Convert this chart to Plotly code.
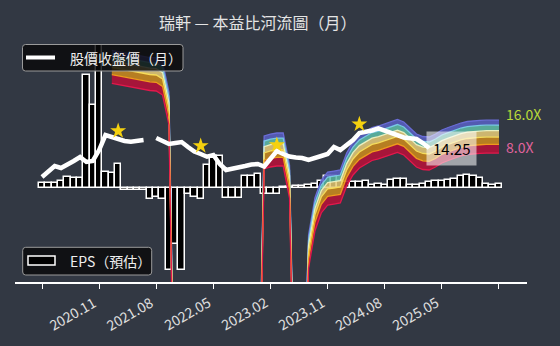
import math
import plotly.graph_objects as go

# ---------------- data ----------------
months = list(range(73))            # month index, 0 = 2020.11 ... 72 = 2026.11
tick_idx = [0, 9, 18, 27, 36, 45, 54, 63, 72]
tick_text = ["2020.11", "2021.08", "2022.05", "2023.02", "2023.11", "2024.08", "2025.05", "", ""]

# monthly EPS (estimated)
eps = [0.047, 0.047, 0.047, 0.07, 0.107, 0.097, 0.097, 1.13, 0.83, 1.70,
       0.163, 0.153, 0.237, -0.015, -0.015, -0.015, -0.015, -0.113, -0.087, -0.113,
       -0.815, -0.56, -0.82, -0.06, -0.087, -0.113, 0.23, 0.325, 0.325, -0.095,
       -0.095, -0.095, 0.12, 0.12, 0.137, -0.06, -0.06, -0.06, 0.008, 0.015,
       0.02, 0.025, 0.035, 0.04, 0.07, 0.12, 0.12, 0.07, 0.056, 0.056,
       0.056, 0.066, 0.033, 0.043, 0.033, 0.083, 0.09, 0.09, 0.033, 0.033,
       0.044, 0.056, 0.07, 0.07, 0.083, 0.095, 0.12, 0.13, 0.12, 0.10,
       0.044, 0.035, 0.044]

# monthly close price (None = no data)
price = [7.75, 8.79, 9.76, 9.36, 9.97, 10.85, 11.79, 10.62, 10.85, 13.66,
         18.72, 17.95, 17.04, 16.51, 16.27, 16.51, 16.86, None, 17.58, 16.51,
         15.50, 15.83, 16.16, 14.55, 13.24, 12.56, 11.87, 12.30, 10.18, 8.98,
         9.17, 9.36, 9.76, 10.07, 10.18, 9.66, 11.55, 13.38, 12.56, 11.92,
         11.67, 11.55, 11.08, 11.43, 12.04, 12.56, 14.55, 13.66, 15.02, 16.86,
         19.53, 19.94, 20.58, 21.55, 20.58, 19.32, 18.33, 17.77, 17.47, 17.22,
         15.83, 14.25]

# trailing EPS used for the PE river (None = negative / not available)
eps_ttm = [None] * 11 + [6.94, 6.76, 6.55, 6.42, 6.22, 6.09, 5.96, 5.90, 5.42, 2.89, 0.001] + \
          [None] * 12 + [0.001, 1.146, 1.195, 1.220, 1.220, 0.623, 0.001,
                         0.001, 0.143, 0.312, 0.455, 0.538, 0.549, 0.561, 0.802, 1.010,
                         1.170, 1.273, 1.370, 1.414, 1.475, 1.538, 1.621, 1.538, 1.356, 1.195,
                         1.134, 1.122, 1.195, 1.300, 1.370, 1.444, 1.506, 1.554, 1.580, 1.590,
                         1.601, 1.601, 1.601]

pe_mult = [8.0, 9.6, 11.2, 12.8, 14.4, 16.0]
band_fill = ["rgba(178,18,58,0.9)", "rgba(200,135,30,0.88)", "rgba(232,205,120,0.85)",
             "rgba(95,190,168,0.85)", "rgba(88,94,192,0.88)"]
line_cols = ["#e3184c", "#f09a1c", "#f6dc5a", "#e8f0c0", "#78c8e6", "#6a6cd6"]

star_idx = [12, 25, 37, 50]
star_price = [20.4, 14.9, 15.2, 23.5]

last_price = 14.25

# ---------------- layout helpers (pixel -> paper) ----------------
W, H = 560, 346
L, R, T, B = 15, 527, 44, 282


def px(x):
    return (x - L) / (R - L)


def py(y):
    return (B - y) / (B - T)


def rrect(x0, y0, x1, y1, r=3):
    rx = r / (R - L)
    ry = r / (B - T)
    X0, X1, Y0, Y1 = px(x0), px(x1), py(y0), py(y1)
    return (f"M {X0+rx},{Y0} L {X1-rx},{Y0} Q {X1},{Y0} {X1},{Y0-ry} "
            f"L {X1},{Y1+ry} Q {X1},{Y1} {X1-rx},{Y1} L {X0+rx},{Y1} "
            f"Q {X0},{Y1} {X0},{Y1+ry} L {X0},{Y0-ry} Q {X0},{Y0} {X0+rx},{Y0} Z")


BG = "#323843"
FONT = "Noto Sans CJK TC"

fig = go.Figure()

# EPS bars (base axis)
fig.add_trace(go.Bar(x=months, y=eps, width=1.0,
                     marker=dict(color="black", line=dict(color="white", width=1.5)),
                     yaxis="y", showlegend=False, hoverinfo="skip"))

# river bands (price axis, log)
segments = []
cur = []
for i, e in enumerate(eps_ttm):
    if e is None:
        if cur:
            segments.append(cur)
            cur = []
    else:
        cur.append(i)
if cur:
    segments.append(cur)

for seg in segments:
    xs = [months[i] for i in seg]
    for k in range(len(pe_mult) - 1):
        lo = [pe_mult[k] * eps_ttm[i] for i in seg]
        hi = [pe_mult[k + 1] * eps_ttm[i] for i in seg]
        fig.add_trace(go.Scatter(x=xs + xs[::-1], y=lo + hi[::-1], mode="lines",
                                 fill="toself", fillcolor=band_fill[k],
                                 line=dict(width=0), yaxis="y2",
                                 showlegend=False, hoverinfo="skip"))
    for k in reversed(range(len(pe_mult))):
        m = pe_mult[k]
        fig.add_trace(go.Scatter(x=xs, y=[m * eps_ttm[i] for i in seg], mode="lines",
                                 line=dict(color=line_cols[k], width=1.3), yaxis="y2",
                                 showlegend=False, hoverinfo="skip"))

# price line
fig.add_trace(go.Scatter(x=months[:len(price)], y=price, mode="lines",
                         line=dict(color="white", width=4.5), connectgaps=False,
                         yaxis="y2", showlegend=False, hoverinfo="skip"))

# stars
fig.add_trace(go.Scatter(x=star_idx, y=star_price, mode="markers",
                         marker=dict(symbol="star", size=12, color="#f5d10f"),
                         yaxis="y2", showlegend=False, hoverinfo="skip"))

# ---------------- axes ----------------
xr = [(L - 42.0) / 6.347, (R - 42.0) / 6.347]
fig.update_layout(
    width=W, height=H, autosize=False,
    margin=dict(l=L, r=W - R, t=T, b=H - B, pad=0),
    paper_bgcolor=BG, plot_bgcolor=BG,
    barmode="overlay", bargap=0,
    xaxis=dict(range=xr, tickvals=tick_idx, ticktext=[""] * len(tick_idx),
               ticks="outside", ticklen=5, tickwidth=1, tickcolor="white",
               showline=True, linecolor="white", linewidth=1.5,
               showgrid=False, zeroline=False, fixedrange=True),
    yaxis=dict(range=[(B - 188) * -0.01, (188 - T) * 0.01], visible=False,
               showgrid=False, zeroline=False),
    yaxis2=dict(type="log", overlaying="y",
                range=[math.log10(last_price) - (B - 148) / 109.6,
                       math.log10(last_price) + (148 - T) / 109.6],
                visible=False, showgrid=False, zeroline=False),
    showlegend=False,
)

annotations = []
# title
annotations.append(dict(x=px(157), y=py(22), xref="paper", yref="paper",
                        text="瑞軒 — 本益比河流圖（月）", showarrow=False,
                        xanchor="left", yanchor="middle",
                        font=dict(family=FONT, size=16, color="#e4e4e4")))

for i, t in zip(tick_idx, tick_text):
    if t:
        annotations.append(dict(x=i, xref="x", y=py(289), yref="paper", text=t,
                                textangle=-30, xanchor="left", yanchor="top", xshift=1,
                                showarrow=False,
                                font=dict(family=FONT, size=14, color="#e0e0e0")))

# last price label
annotations.append(dict(x=len(price) - 1, y=math.log10(last_price), xref="x", yref="y2",
                        text=f"{last_price:.2f}", showarrow=False, xanchor="left", xshift=-3,
                        bgcolor="rgba(255,255,255,0.55)", borderpad=6,
                        font=dict(family=FONT, size=15, color="black")))

# band labels
e_last = eps_ttm[-1]
annotations.append(dict(x=months[-1], y=math.log10(pe_mult[-1] * e_last), xref="x", yref="y2",
                        text=f"{pe_mult[-1]:.1f}X", showarrow=False, xanchor="left",
                        xshift=5, yshift=6,
                        font=dict(family=FONT, size=14, color="#b9d93a")))
annotations.append(dict(x=months[-1], y=math.log10(pe_mult[0] * e_last), xref="x", yref="y2",
                        text=f"{pe_mult[0]:.1f}X", showarrow=False, xanchor="left",
                        xshift=5, yshift=6,
                        font=dict(family=FONT, size=14, color="#e0639d")))

# legends (drawn manually)
annotations.append(dict(x=px(68), y=py(57.5), xref="paper", yref="paper", text="股價收盤價（月）",
                        showarrow=False, xanchor="left", yanchor="middle",
                        font=dict(family=FONT, size=14, color="#eeeeee")))
annotations.append(dict(x=px(68), y=py(261), xref="paper", yref="paper", text="EPS（預估）",
                        showarrow=False, xanchor="left", yanchor="middle",
                        font=dict(family=FONT, size=14, color="#eeeeee")))

shapes = [
    dict(type="path", path=rrect(22.5, 44.5, 183, 71), xref="paper", yref="paper",
         fillcolor="rgba(8,8,10,0.82)", line=dict(color="#9a9a9a", width=1)),
    dict(type="line", x0=px(26), x1=px(55), y0=py(57.5), y1=py(57.5), xref="paper", yref="paper",
         line=dict(color="white", width=4)),
    dict(type="path", path=rrect(22.7, 247.3, 151.7, 275), xref="paper", yref="paper",
         fillcolor="rgba(8,8,10,0.82)", line=dict(color="#9a9a9a", width=1)),
    dict(type="rect", x0=px(28), x1=px(55), y0=py(256), y1=py(265), xref="paper", yref="paper",
         fillcolor="black", line=dict(color="white", width=1.5)),
]

fig.update_layout(annotations=annotations, shapes=shapes)
fig.write_html("out.html")
